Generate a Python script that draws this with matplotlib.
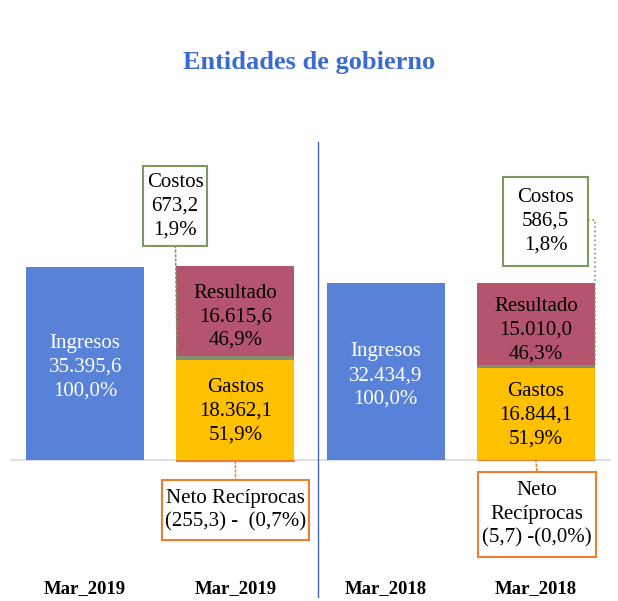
import matplotlib
matplotlib.use("Agg")
import matplotlib.pyplot as plt
import matplotlib.transforms as mtrans
from matplotlib.patches import Rectangle, ConnectionPatch
from matplotlib.lines import Line2D

plt.rcParams['font.family'] = ['Liberation Serif', 'DejaVu Serif']

# --- datos ---
categories = ["Mar_2019", "Mar_2019", "Mar_2018", "Mar_2018"]
ingresos = [35395.6, 32434.9]
gastos = [18362.1, 16844.1]
costos = [673.2, 586.5]
resultado = [16615.6, 15010.0]
neto = [-255.3, -5.7]

c_ing = "#5882D8"
c_gas = "#FFC000"
c_cos = "#82906E"
c_res = "#B4546F"
c_neto = "#ED7D31"
c_box_cos = "#7F9A60"

W, H = 618, 601


def es(v):
    # formato espanol 12.345,6
    s = f"{abs(v):,.1f}"
    return s.replace(",", "X").replace(".", ",").replace("X", ".")


def pct(v, tot):
    return f"{abs(v) / tot * 100:.1f}".replace(".", ",") + "%"


fig = plt.figure(figsize=(W / 100, H / 100), dpi=100)
ax = fig.add_axes([10 / W, 41 / H, 601 / W, 420 / H])
k = ingresos[0] / 193.0  # unidades por pixel
ax.set_xlim(-0.5, 3.5)
ax.set_ylim(-100 * k, 320 * k)
ax.axis("off")

bw = 118 / 150.3
x_ing = [0, 2]
x_stk = [1, 3]

ax.axhline(0, color="#D9D9D9", lw=1.2, zorder=1)

ax.bar(x_ing, ingresos, width=bw, color=c_ing, zorder=2)
ax.bar(x_stk, gastos, width=bw, color=c_gas, zorder=2)
ax.bar(x_stk, costos, width=bw, bottom=gastos, color=c_cos, zorder=2)
bot_res = [g + c for g, c in zip(gastos, costos)]
ax.bar(x_stk, resultado, width=bw, bottom=bot_res, color=c_res, zorder=2)
ax.bar(x_stk, neto, width=bw, color=c_neto, edgecolor=c_neto, lw=0.8, zorder=2)

fs = 15
ls = 1.33
for i in range(2):
    tot = ingresos[i]
    ax.text(x_ing[i], tot / 2 - 4 * k, f"Ingresos\n{es(tot)}\n{pct(tot, tot)}",
            ha="center", va="center", color="white", fontsize=fs, linespacing=ls, zorder=3)
    ax.text(x_stk[i], gastos[i] / 2 - 1 * k, f"Gastos\n{es(gastos[i])}\n{pct(gastos[i], tot)}",
            ha="center", va="center", color="black", fontsize=fs, linespacing=ls, zorder=3)
    ax.text(x_stk[i], bot_res[i] + resultado[i] / 2 - 6 * k,
            f"Resultado\n{es(resultado[i])}\n{pct(resultado[i], tot)}",
            ha="center", va="center", color="black", fontsize=fs, linespacing=ls, zorder=3)


def box(x0, y0, x1, y1, ec, txt):
    # caja en pixeles desde arriba-izquierda
    r = Rectangle((x0 / W, 1 - y1 / H), (x1 - x0) / W, (y1 - y0) / H,
                  transform=fig.transFigure, facecolor="white", edgecolor=ec, lw=1.5)
    fig.add_artist(r)
    fig.text((x0 + x1) / 2 / W, 1 - (y0 + y1) / 2 / H, txt, ha="center", va="center",
             fontsize=fs, linespacing=ls)


box(143, 166, 207, 246, c_box_cos, f"Costos\n{es(costos[0])}\n{pct(costos[0], ingresos[0])}")
box(503, 177, 588, 266, c_box_cos, f"Costos\n{es(costos[1])}\n{pct(costos[1], ingresos[1])}")
box(162, 480, 309, 540, c_neto,
    f"Neto Recíprocas\n({es(neto[0])}) -  ({pct(neto[0], ingresos[0])})")
box(478, 472, 596, 557, c_neto,
    f"Neto\nRecíprocas\n({es(neto[1])}) -({pct(neto[1], ingresos[1])})")

# lineas guia
y_c0 = gastos[0] + costos[0] / 2
p = ConnectionPatch((x_stk[0] - bw / 2 + 0.005, y_c0), (175.5, H - 246), coordsA="data",
                    coordsB="figure pixels", axesA=ax, color=c_box_cos, lw=1.2, ls=":")
fig.add_artist(p)
p = ConnectionPatch((x_stk[0], neto[0]), (235.5, H - 480), coordsA="data",
                    coordsB="figure pixels", axesA=ax, color=c_neto, lw=1.2, ls=":")
fig.add_artist(p)
p = ConnectionPatch((x_stk[1], neto[1]), (537, H - 472), coordsA="data",
                    coordsB="figure pixels", axesA=ax, color=c_neto, lw=1.2, ls=":")
fig.add_artist(p)
xr, yc = ax.transData.transform((x_stk[1] + bw / 2, gastos[1] + costos[1] / 2))
fig.add_artist(Line2D([588 / W, xr / W, xr / W], [1 - 220 / H, 1 - 220 / H, yc / H],
                      transform=fig.transFigure, color=c_box_cos, lw=1.2, ls=":"))

# separador
fig.add_artist(Line2D([317.5 / W, 317.5 / W], [1 - 142 / H, 1 - 597 / H],
                      transform=fig.transFigure, color="#4066C0", lw=1.0))

tr = mtrans.blended_transform_factory(ax.transData, fig.transFigure)
for xi, lab in enumerate(categories):
    ax.text(xi, 1 - 589 / H, lab, transform=tr,
            ha="center", va="center", fontsize=13.5, fontweight="bold")

fig.text(0.5, 1 - 63 / H, "Entidades de gobierno", ha="center", va="center",
         fontsize=19, fontweight="bold", color="#3A6BD0")

fig.savefig("out.png", dpi=100)
